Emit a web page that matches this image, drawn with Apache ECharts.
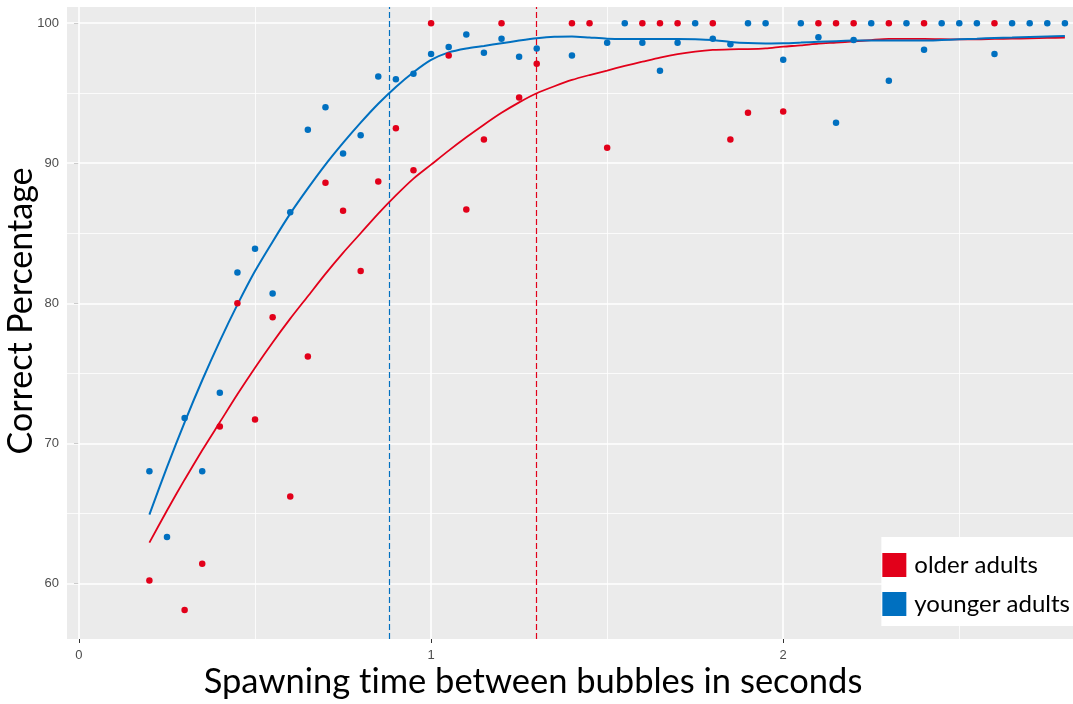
<!DOCTYPE html>
<html>
<head>
<meta charset="utf-8">
<title>Correct percentage by spawning time</title>
<script src="https://cdn.jsdelivr.net/npm/echarts@6/dist/echarts.min.js"></script>
<style>
  html, body { margin: 0; padding: 0; background: #ffffff; }
  #chart { width: 1073px; height: 704px; }
</style>
</head>
<body>
<div id="chart"></div>
<script>
// Axis ticks and gridlines
const xTickValues = [0, 1, 2];
const xMinorValues = [0.5, 1.5, 2.5];
const yTickValues = [60, 70, 80, 90, 100];
const yMinorValues = [65, 75, 85, 95];

// Observed correct percentage, older adults
const olderTimes = [0.2, 0.3, 0.35, 0.4, 0.45, 0.5, 0.55, 0.6, 0.65, 0.7, 0.75, 0.8, 0.85, 0.9, 0.95,
  1.0, 1.05, 1.1, 1.15, 1.2, 1.25, 1.3, 1.4, 1.45, 1.5, 1.6, 1.65, 1.7, 1.8, 1.85, 1.9, 2.0,
  2.1, 2.15, 2.2, 2.3, 2.4, 2.6];
const olderPct = [60.2, 58.1, 61.4, 71.2, 80.0, 71.7, 79.0, 66.2, 76.2, 88.6, 86.6, 82.3, 88.7, 92.5, 89.5,
  100, 97.7, 86.7, 91.7, 100, 94.7, 97.1, 100, 100, 91.1, 100, 100, 100, 100, 91.7, 93.6, 93.7,
  100, 100, 100, 100, 100, 100];

// Observed correct percentage, younger adults
const youngerTimes = [0.2, 0.25, 0.3, 0.35, 0.4, 0.45, 0.5, 0.55, 0.6, 0.65, 0.7, 0.75, 0.8, 0.85, 0.9, 0.95,
  1.0, 1.05, 1.1, 1.15, 1.2, 1.25, 1.3, 1.4, 1.5, 1.55, 1.6, 1.65, 1.7, 1.75, 1.8, 1.85, 1.9, 1.95,
  2.0, 2.05, 2.1, 2.15, 2.2, 2.25, 2.3, 2.35, 2.4, 2.45, 2.5, 2.55, 2.6, 2.65, 2.7, 2.75, 2.8];
const youngerPct = [68.0, 63.3, 71.8, 68.0, 73.6, 82.2, 83.9, 80.7, 86.5, 92.4, 94.0, 90.7, 92.0, 96.2, 96.0, 96.4,
  97.8, 98.3, 99.2, 97.9, 98.9, 97.6, 98.2, 97.7, 98.6, 100, 98.6, 96.6, 98.6, 100, 98.9, 98.5, 100, 100,
  97.4, 100, 99.0, 92.9, 98.8, 100, 95.9, 100, 98.1, 100, 100, 100, 97.8, 100, 100, 100, 100];

// Smoothed trend for each group
const fitTimes = [0.2, 0.25, 0.3, 0.35, 0.4, 0.45, 0.5, 0.55, 0.6, 0.65, 0.7, 0.75, 0.8, 0.85, 0.9, 0.95,
  1.0, 1.05, 1.1, 1.15, 1.2, 1.25, 1.3, 1.35, 1.4, 1.45, 1.5, 1.55, 1.6, 1.65, 1.7, 1.75, 1.8, 1.85, 1.9, 1.95,
  2.0, 2.05, 2.1, 2.15, 2.2, 2.25, 2.3, 2.35, 2.4, 2.45, 2.5, 2.55, 2.6, 2.65, 2.7, 2.75, 2.8];
const olderFit = [62.9, 65.2, 67.4, 69.5, 71.5, 73.5, 75.4, 77.2, 78.9, 80.5, 82.1, 83.6, 85.0, 86.4, 87.7, 88.9,
  89.9, 90.9, 91.85, 92.75, 93.6, 94.35, 95.0, 95.5, 95.95, 96.3, 96.62, 96.95, 97.25, 97.55, 97.8, 97.98, 98.1, 98.14, 98.15, 98.2,
  98.33, 98.42, 98.55, 98.62, 98.7, 98.8, 98.88, 98.88, 98.88, 98.86, 98.85, 98.85, 98.88, 98.9, 98.92, 98.95, 98.98];
const youngerFit = [64.9, 68.3, 71.5, 74.5, 77.3, 79.9, 82.3, 84.4, 86.4, 88.2, 89.9, 91.45, 92.9, 94.25, 95.45, 96.5,
  97.38, 97.92, 98.2, 98.38, 98.57, 98.76, 98.93, 99.04, 99.06, 98.98, 98.9, 98.88, 98.88, 98.88, 98.88, 98.86, 98.8, 98.66, 98.58, 98.56,
  98.57, 98.62, 98.68, 98.72, 98.76, 98.76, 98.76, 98.76, 98.76, 98.8, 98.85, 98.9, 98.95, 98.98, 99.02, 99.06, 99.09];

// Spawning time where each group's trend levels off
const olderCutoff = 1.3;
const youngerCutoff = 0.876;

const RED = '#E2001A';
const BLUE = '#0070C0';

const zip = (xs, ys) => xs.map((x, i) => [x, ys[i]]);

const chart = echarts.init(document.getElementById('chart'), null, { renderer: 'canvas' });

const tickLabel = { color: '#4D4D4D', fontSize: 13, fontFamily: 'Liberation Sans' };

chart.setOption({
  animation: false,
  backgroundColor: '#ffffff',
  grid: {
    left: 67, top: 7, right: 0, bottom: 65,
    show: true, backgroundColor: '#EBEBEB', borderWidth: 0
  },
  xAxis: {
    type: 'value', min: -0.034, max: 2.823,
    axisLine: { show: false },
    axisTick: { show: true, length: 4, customValues: xTickValues, lineStyle: { color: '#333333', width: 1 } },
    axisLabel: { customValues: xTickValues, margin: 10, ...tickLabel },
    splitLine: { show: false }
  },
  yAxis: {
    type: 'value', min: 56.02, max: 101.16,
    axisLine: { show: false },
    axisTick: { show: true, length: 5, customValues: yTickValues, lineStyle: { color: '#333333', width: 1 } },
    axisLabel: { customValues: yTickValues, margin: 8, ...tickLabel },
    splitLine: { show: false }
  },
  legend: {
    data: ['older adults', 'younger adults'],
    orient: 'vertical', right: 0, top: 537,
    backgroundColor: '#ffffff',
    padding: [16, 3, 10, 1],
    itemWidth: 24, itemHeight: 24, itemGap: 15,
    icon: 'rect', selectedMode: false,
    textStyle: { fontFamily: 'Lato', fontSize: 24, color: '#000000', lineHeight: 24, padding: [0, 0, 0, 3] }
  },
  graphic: [
    {
      type: 'text', x: 21, y: 311, rotation: Math.PI / 2,
      style: { text: 'Correct Percentage', fontFamily: 'Lato', fontSize: 34, fill: '#000000', align: 'center', verticalAlign: 'middle' }
    },
    {
      type: 'text', x: 533, y: 682,
      style: { text: 'Spawning t\u200Cime between bubbles in seconds', fontFamily: 'Lato', fontSize: 34.5, fill: '#000000', align: 'center', verticalAlign: 'middle' }
    }
  ],
  series: [
    {
      // panel gridlines, kept beneath every mark
      name: 'gridlines', type: 'line', data: [], z: 1, silent: true,
      markLine: {
        z: 1, silent: true, symbol: ['none', 'none'], label: { show: false },
        data: [
          ...xMinorValues.map(v => ({ xAxis: v, lineStyle: { color: '#ffffff', width: 0.8, type: 'solid' } })),
          ...yMinorValues.map(v => ({ yAxis: v, lineStyle: { color: '#ffffff', width: 0.8, type: 'solid' } })),
          ...xTickValues.map(v => ({ xAxis: v, lineStyle: { color: '#ffffff', width: 1.6, type: 'solid' } })),
          ...yTickValues.map(v => ({ yAxis: v, lineStyle: { color: '#ffffff', width: 1.6, type: 'solid' } }))
        ]
      }
    },
    {
      name: 'older trend', type: 'line', z: 3, smooth: 0.25, showSymbol: false, silent: true,
      data: zip(fitTimes, olderFit),
      lineStyle: { color: RED, width: 1.8 }, itemStyle: { color: RED },
      markLine: {
        z: 2, silent: true, symbol: ['none', 'none'], label: { show: false },
        lineStyle: { color: RED, width: 1.2, type: [6, 3] },
        data: [{ xAxis: olderCutoff }]
      }
    },
    {
      name: 'younger trend', type: 'line', z: 3, smooth: 0.25, showSymbol: false, silent: true,
      data: zip(fitTimes, youngerFit),
      lineStyle: { color: BLUE, width: 2 }, itemStyle: { color: BLUE },
      markLine: {
        z: 2, silent: true, symbol: ['none', 'none'], label: { show: false },
        lineStyle: { color: BLUE, width: 1.2, type: [6, 3] },
        data: [{ xAxis: youngerCutoff }]
      }
    },
    {
      name: 'older adults', type: 'scatter', z: 6, symbolSize: 6.5,
      data: zip(olderTimes, olderPct), itemStyle: { color: RED, opacity: 1 }
    },
    {
      name: 'younger adults', type: 'scatter', z: 6, symbolSize: 6.5,
      data: zip(youngerTimes, youngerPct), itemStyle: { color: BLUE, opacity: 1 }
    }
  ]
});
</script>
</body>
</html>
